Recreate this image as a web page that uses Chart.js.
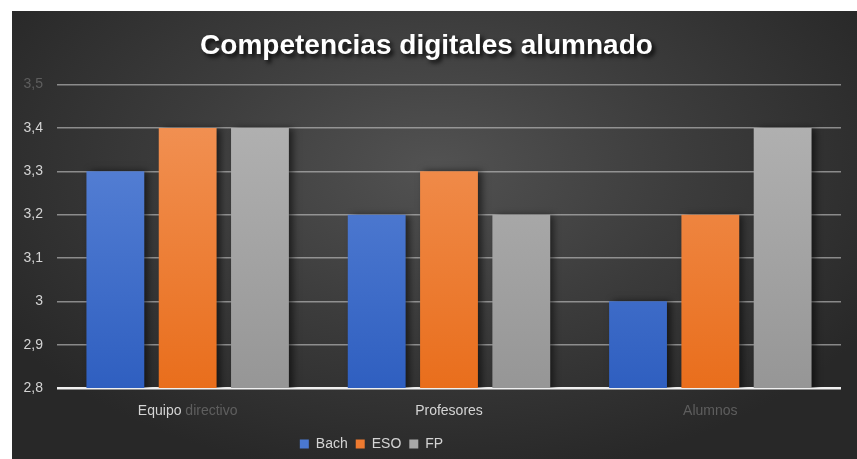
<!DOCTYPE html>
<html>
<head>
<meta charset="utf-8">
<script src="https://cdn.jsdelivr.net/npm/chart.js@4.4.1/dist/chart.umd.min.js"></script>
<style>
  html, body { margin: 0; padding: 0; background: #ffffff; }
  #wrap {
    position: absolute; left: 12px; top: 11px; width: 845px; height: 448px;
    background: radial-gradient(ellipse 60% 70% at 50% 35%, #525252 0%, #3c3c3c 50%, #282828 100%);
  }
  canvas { display: block; }
</style>
</head>
<body>
<div id="wrap"><canvas id="c" width="845" height="448"></canvas></div>
<script>
const categories = ['Equipo directivo', 'Profesores', 'Alumnos'];
const seriesNames = ['Bach', 'ESO', 'FP'];
const bachValues = [3.3, 3.2, 3.0];
const esoValues = [3.4, 3.3, 3.2];
const fpValues = [3.4, 3.2, 3.4];
const yTicks = [2.8, 2.9, 3.0, 3.1, 3.2, 3.3, 3.4, 3.5];
const titleText = 'Competencias digitales alumnado';

const FONT = "'Liberation Sans Narrow', 'Liberation Sans', Arial, sans-serif";
const LIGHT = '#d4d4d4';
const DIM = '#5e5e5e';

function vGrad(chart, top, bottom) {
  const a = chart.chartArea;
  if (!a) return top;
  const g = chart.ctx.createLinearGradient(0, a.top, 0, a.bottom);
  g.addColorStop(0, top);
  g.addColorStop(1, bottom);
  return g;
}

const shadowPlugin = {
  id: 'shadows',
  afterInit(chart) {
    const tb = chart.titleBlock;
    if (tb && !tb._patched) {
      const orig = tb.draw;
      tb.draw = function () {
        const ctx = chart.ctx;
        ctx.save();
        ctx.shadowColor = 'rgba(0,0,0,0.85)';
        ctx.shadowOffsetX = 3;
        ctx.shadowOffsetY = 3;
        ctx.shadowBlur = 4;
        orig.apply(this, arguments);
        ctx.restore();
      };
      tb._patched = true;
    }
  },
  afterLayout(chart) {
    const lg = chart.legend;
    if (lg) {
      lg.right -= 110;
      lg.top += 2;
      lg.bottom += 2;
    }
  },
  beforeDatasetsDraw(chart) {
    const ctx = chart.ctx;
    ctx.save();
    ctx.shadowColor = 'rgba(0,0,0,0.55)';
    ctx.shadowOffsetX = 4;
    ctx.shadowOffsetY = 0;
    ctx.shadowBlur = 7;
  },
  afterDatasetsDraw(chart) {
    chart.ctx.restore();
  }
};

const fmt = v => String(Math.round(v * 10) / 10).replace('.', ',');

new Chart(document.getElementById('c'), {
  type: 'bar',
  data: {
    labels: categories,
    datasets: [
      { label: seriesNames[0], data: bachValues,
        backgroundColor: c => vGrad(c.chart, '#6089da', '#2f5fc0') },
      { label: seriesNames[1], data: esoValues,
        backgroundColor: c => vGrad(c.chart, '#f2955a', '#e96e1c') },
      { label: seriesNames[2], data: fpValues,
        backgroundColor: c => vGrad(c.chart, '#b4b4b4', '#969696') }
    ]
  },
  options: {
    responsive: false,
    animation: false,
    devicePixelRatio: 1,
    categoryPercentage: 0.83,
    barPercentage: 0.8,
    layout: { padding: { top: 18, right: 16, left: 0, bottom: 0 } },
    plugins: {
      title: {
        display: true,
        text: titleText,
        color: '#ffffff',
        font: { family: FONT, size: 28, weight: 'bold' },
        padding: { top: 0, bottom: 22 }
      },
      legend: {
        position: 'bottom',
        labels: {
          color: LIGHT,
          font: { family: FONT, size: 14 },
          boxWidth: 9,
          boxHeight: 9,
          padding: 8,
          generateLabels(chart) {
            const cols = ['#4a78d0', '#ee7a30', '#a8a8a8'];
            return chart.data.datasets.map((d, i) => ({
              text: d.label, fillStyle: cols[i], strokeStyle: cols[i],
              lineWidth: 0, hidden: false, datasetIndex: i, fontColor: LIGHT
            }));
          }
        }
      },
      tooltip: { enabled: false }
    },
    scales: {
      x: {
        grid: { display: false },
        border: { display: false },
        afterFit: s => { s.height = 39; },
        ticks: {
          padding: 7,
          font: { family: FONT, size: 14 },
          color: c => {
            const idx = c.index;
            if (idx === 2) return DIM;
            if (idx === 0) {
              const g = c.chart.ctx.createLinearGradient(-60, 0, 60, 0);
              g.addColorStop(0, LIGHT);
              g.addColorStop(0.465, LIGHT);
              g.addColorStop(0.475, DIM);
              g.addColorStop(1, DIM);
              return g;
            }
            return LIGHT;
          }
        }
      },
      y: {
        min: 2.8,
        max: 3.5,
        afterBuildTicks: s => { s.ticks = yTicks.map(v => ({ value: v })); },
        afterFit: s => { s.width = 45; },
        border: { display: false },
        grid: {
          drawTicks: false,
          color: c => (c.tick && Math.abs(c.tick.value - 2.8) < 1e-6) ? '#f0f0f0' : 'rgba(200,200,200,0.6)',
          lineWidth: c => (c.tick && Math.abs(c.tick.value - 2.8) < 1e-6) ? 2.5 : 1.5
        },
        ticks: {
          padding: 14,
          font: { family: FONT, size: 14 },
          color: c => (c.tick && Math.abs(c.tick.value - 3.5) < 1e-6) ? DIM : LIGHT,
          callback: v => fmt(v)
        }
      }
    }
  },
  plugins: [shadowPlugin]
});
</script>
</body>
</html>
